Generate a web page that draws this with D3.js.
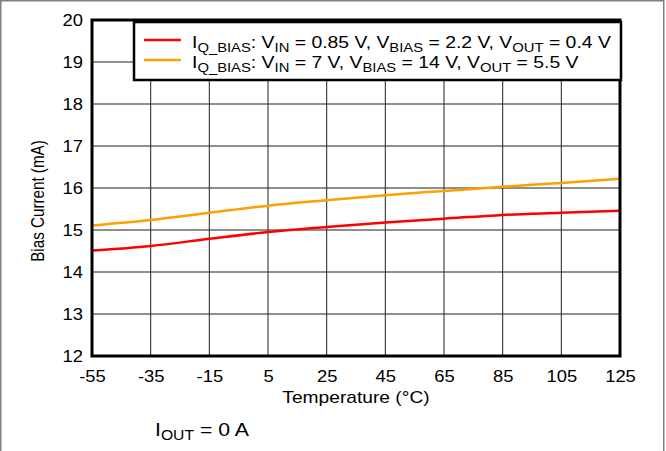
<!DOCTYPE html>
<html>
<head>
<meta charset="utf-8">
<script src="https://cdn.jsdelivr.net/npm/d3@7"></script>
<style>
  body { margin: 0; background: #fff; }
  svg { font-family: Arial, "Liberation Sans", sans-serif; }
</style>
</head>
<body>
<div id="chart"></div>
<script>
// temperatures (deg C)
var temps = [-55, -35, -15, 5, 25, 45, 65, 85, 105, 125];
// bias current, mA
var lowBias  = [14.51, 14.62, 14.79, 14.95, 15.07, 15.18, 15.27, 15.36, 15.41, 15.46];
var highBias = [15.11, 15.24, 15.41, 15.58, 15.71, 15.83, 15.93, 16.03, 16.12, 16.22];
var xTicks = [-55, -35, -15, 5, 25, 45, 65, 85, 105, 125];
var yTicks = [12, 13, 14, 15, 16, 17, 18, 19, 20];

var W = 666, H = 451;
var margin = {top: 20, right: 46, bottom: 95, left: 92};
var SX = 1.15; // the source font is a bit wider than Arial

var svg = d3.select("#chart").append("svg")
  .attr("width", W).attr("height", H);

// outer border (bottom edge falls outside the picture)
svg.append("rect").attr("x", 0.75).attr("y", 0.75)
  .attr("width", 663).attr("height", H + 10)
  .attr("fill", "none").attr("stroke", "#808080").attr("stroke-width", 1.5);

var x = d3.scaleLinear().domain([-55, 125]).range([margin.left, W - margin.right]);
var y = d3.scaleLinear().domain([12, 20]).range([H - margin.bottom, margin.top]);

// helper: text placed at (tx,ty) and stretched horizontally
function wideText(g, tx, ty, size, sx) {
  return g.append("text")
    .attr("transform", "translate(" + tx + "," + ty + ") scale(" + sx + ",1)")
    .attr("font-size", size);
}

// grid
svg.append("g").selectAll("line").data(yTicks).enter().append("line")
  .attr("x1", x(-55)).attr("x2", x(125))
  .attr("y1", function(d){ return y(d); }).attr("y2", function(d){ return y(d); })
  .attr("stroke", "#6a6a6a").attr("stroke-width", 1.4);
svg.append("g").selectAll("line").data(xTicks).enter().append("line")
  .attr("y1", y(12)).attr("y2", y(20))
  .attr("x1", function(d){ return x(d); }).attr("x2", function(d){ return x(d); })
  .attr("stroke", "#333").attr("stroke-width", 1.1);

// lines
var line = d3.line()
  .x(function(d){ return x(d[0]); })
  .y(function(d){ return y(d[1]); })
  .curve(d3.curveMonotoneX);

svg.append("path").datum(d3.zip(temps, highBias))
  .attr("d", line).attr("fill", "none")
  .attr("stroke", "#ff9f00").attr("stroke-width", 2.5);
svg.append("path").datum(d3.zip(temps, lowBias))
  .attr("d", line).attr("fill", "none")
  .attr("stroke", "#ff0000").attr("stroke-width", 2.5);

// frame
svg.append("rect")
  .attr("x", x(-55)).attr("y", y(20))
  .attr("width", x(125) - x(-55)).attr("height", y(12) - y(20))
  .attr("fill", "none").attr("stroke", "#000").attr("stroke-width", 3);

// axes
var fmt = function(d){ return String(d); }; // plain hyphen, like the source
var xAxis = d3.axisBottom(x).tickValues(xTicks).tickSize(0).tickPadding(15).tickFormat(fmt);
var gx = svg.append("g").attr("transform", "translate(0," + y(12) + ")").call(xAxis);
gx.select(".domain").remove();
gx.selectAll("text").attr("font-size", 16).attr("fill", "#000")
  .attr("font-family", "Arial, 'Liberation Sans', sans-serif")
  .attr("transform", "scale(" + SX + ",1)");

var yAxis = d3.axisLeft(y).tickValues(yTicks).tickSize(0).tickFormat(fmt);
var gy = svg.append("g").attr("transform", "translate(" + x(-55) + ",0)").call(yAxis);
gy.select(".domain").remove();
gy.selectAll("text").attr("font-size", 16).attr("fill", "#000")
  .attr("font-family", "Arial, 'Liberation Sans', sans-serif")
  .attr("x", 0)
  .attr("transform", "translate(-9,0) scale(" + SX + ",1)");

// axis titles
wideText(svg, (x(-55) + x(125)) / 2, 403, 16, 1.2)
  .attr("text-anchor", "middle").text("Temperature (°C)");
svg.append("text")
  .attr("transform", "translate(44,201) rotate(-90) scale(0.95,1.1)")
  .attr("text-anchor", "middle").attr("font-size", 16)
  .text("Bias Current (mA)");

// note
var note = wideText(svg, 155, 436, 19, 1.12);
note.append("tspan").text("I");
note.append("tspan").attr("font-size", 14).attr("dy", 4).text("OUT");
note.append("tspan").attr("dy", -4).text(" = 0 A");

// legend
var leg = svg.append("g");
leg.append("rect").attr("x", 134).attr("y", 22).attr("width", 487).attr("height", 58)
  .attr("fill", "#fff").attr("stroke", "#000").attr("stroke-width", 2.5);

var legItems = [
  {color: "#ff0000", vin: "0.85 V", vbias: "2.2 V", vout: "0.4 V"},
  {color: "#ff9f00", vin: "7 V", vbias: "14 V", vout: "5.5 V"}
];
legItems.forEach(function(d, i){
  var ly = 40 + i * 20;
  leg.append("line").attr("x1", 144).attr("x2", 181).attr("y1", ly).attr("y2", ly)
    .attr("stroke", d.color).attr("stroke-width", 2.5);
  var t = wideText(leg, 192, ly + 8, 17, 1.14);
  var parts = [
    ["I", 0], ["Q_BIAS", 1], [": V", 0], ["IN", 1], [" = " + d.vin + ", V", 0],
    ["BIAS", 1], [" = " + d.vbias + ", V", 0], ["OUT", 1], [" = " + d.vout, 0]
  ];
  parts.forEach(function(p){
    var sp = t.append("tspan").text(p[0]);
    if (p[1]) sp.attr("font-size", 13).attr("dy", 4);
    else sp.attr("dy", sp.node().previousSibling ? -4 : 0);
  });
});
</script>
</body>
</html>
